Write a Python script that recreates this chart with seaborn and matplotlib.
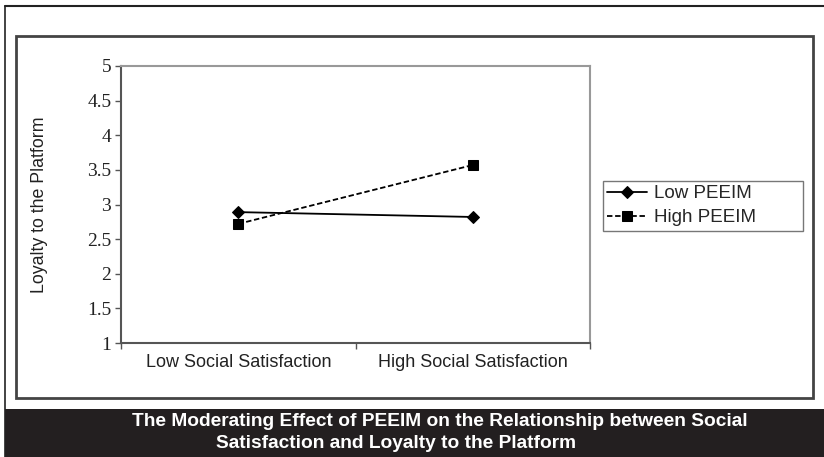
import numpy as np
import matplotlib
matplotlib.use("Agg")
import matplotlib.pyplot as plt
import pandas as pd
import seaborn as sns
from matplotlib.patches import Rectangle
from matplotlib.lines import Line2D

# data
categories = ["Low Social Satisfaction", "High Social Satisfaction"]
low_peeim = [2.89, 2.82]
high_peeim = [2.72, 3.57]
series_names = ["Low PEEIM", "High PEEIM"]
y_ticks = [1, 1.5, 2, 2.5, 3, 3.5, 4, 4.5, 5]
y_tick_labels = ["1", "1.5", "2", "2.5", "3", "3.5", "4", "4.5", "5"]

df = pd.DataFrame({
    "category": categories * 2,
    "loyalty": low_peeim + high_peeim,
    "group": [series_names[0]] * 2 + [series_names[1]] * 2,
})

sns.set_theme(style="white")
plt.rcParams["font.family"] = ["Liberation Sans", "DejaVu Sans"]

fig = plt.figure(figsize=(8.24, 4.57), dpi=100)
W, H = 824, 457

# outer frame lines and inner box
fig.add_artist(Line2D([5 / W, 5 / W], [0, 1 - 6 / H], color="#222222", lw=1.2))
fig.add_artist(Line2D([5 / W, 1], [1 - 6 / H, 1 - 6 / H], color="#222222", lw=1.5))
fig.add_artist(Rectangle((16 / W, 1 - 398 / H), (813 - 16) / W, (398 - 36) / H,
                         fill=False, edgecolor="#444444", lw=2))
# dark caption bar
fig.add_artist(Rectangle((5 / W, 0), 1 - 5 / W, (457 - 409) / H,
                         facecolor="#231f20", edgecolor="none"))
cap_font = ["Liberation Sans Narrow", "Liberation Sans", "DejaVu Sans"]
fig.text(440 / W, 1 - 422 / H,
         "The Moderating Effect of PEEIM on the Relationship between Social",
         color="white", fontsize=13.8, fontweight="bold", ha="center", va="center",
         family=cap_font)
fig.text(396 / W, 1 - 443 / H, "Satisfaction and Loyalty to the Platform",
         color="white", fontsize=13.8, fontweight="bold", ha="center", va="center",
         family=cap_font)

ax = fig.add_axes([121 / W, 1 - 343 / H, (590 - 121) / W, (343 - 66) / H])
sns.lineplot(data=df, x="category", y="loyalty", hue="group", style="group",
             markers={"Low PEEIM": "D", "High PEEIM": "s"},
             dashes={"Low PEEIM": "", "High PEEIM": (3, 1.5)},
             palette={"Low PEEIM": "black", "High PEEIM": "black"},
             markersize=7.5, linewidth=1.3, sort=False, ax=ax)
for line in ax.lines:
    if line.get_marker() == "D":
        line.set_markersize(6.5)
    line.set_markeredgecolor("black")

ax.set_xlim(-0.5, 1.5)
ax.set_ylim(1, 5)
ax.set_yticks(y_ticks)
ax.set_yticklabels(y_tick_labels, family=["Liberation Serif", "DejaVu Serif"],
                   fontsize=14, color="#222222")
ax.set_xticks([0, 1])
ax.set_xticklabels(categories, fontsize=13, color="#222222")
ax.set_xticks([-0.5, 0.5, 1.5], minor=True)
ax.tick_params(axis="x", which="major", length=0, pad=8)
ax.tick_params(axis="x", which="minor", length=4, width=1, color="#555555",
               direction="out", bottom=True)
ax.tick_params(axis="y", length=4, width=1, color="#555555", direction="out",
               left=True, pad=3)
ax.set_xlabel("")
ax.set_ylabel("Loyalty to the Platform", fontsize=12.8, color="#222222", labelpad=28)
for side in ["top", "right"]:
    ax.spines[side].set_color("#999999")
    ax.spines[side].set_linewidth(1.5)
for side in ["left", "bottom"]:
    ax.spines[side].set_color("#555555")
    ax.spines[side].set_linewidth(1.5)

leg = ax.legend(loc="upper left",
                bbox_to_anchor=(603 / W, 1 - 229 / H, 200 / W, 48 / H),
                bbox_transform=fig.transFigure, mode="expand",
                frameon=True, fancybox=False,
                fontsize=13.5, handlelength=2.1, borderpad=0.22,
                labelspacing=0.38, handletextpad=0.4, borderaxespad=0)
leg.get_frame().set_edgecolor("#555555")
leg.get_frame().set_linewidth(1)
for h in leg.legend_handles:
    h.set_color("black")

fig.savefig("out.png", dpi=100)
